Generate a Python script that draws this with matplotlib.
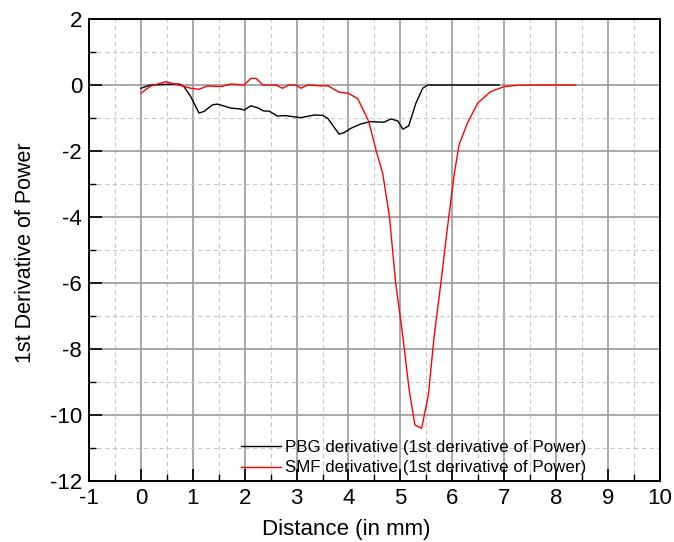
import matplotlib
matplotlib.use("Agg")
import matplotlib.pyplot as plt
from matplotlib.ticker import MultipleLocator

plt.rcParams['font.family'] = ['Liberation Sans', 'DejaVu Sans']
plt.rcParams['axes.unicode_minus'] = False

# PBG derivative (black)
pbg_x = [0.0, 0.19, 0.5, 0.74, 0.83, 0.96, 1.12, 1.22, 1.38, 1.48, 1.73, 1.93, 1.99,
         2.12, 2.25, 2.37, 2.47, 2.63, 2.79, 3.08, 3.34, 3.5, 3.6, 3.82, 3.92, 4.05,
         4.24, 4.43, 4.68, 4.82, 4.95, 5.05, 5.16, 5.3, 5.43, 5.53, 6.0, 6.5, 6.9]
pbg_y = [-0.1, 0.0, 0.02, 0.03, -0.05, -0.35, -0.85, -0.8, -0.6, -0.58, -0.7, -0.73, -0.76,
         -0.63, -0.69, -0.79, -0.79, -0.94, -0.93, -0.99, -0.91, -0.92, -1.01, -1.49, -1.44, -1.31,
         -1.18, -1.11, -1.13, -1.03, -1.09, -1.34, -1.24, -0.55, -0.1, 0.0, 0.0, 0.0, 0.0]

# SMF derivative (red)
smf_x = [0.0, 0.19, 0.48, 0.6, 0.8, 0.96, 1.12, 1.28, 1.54, 1.73, 1.99, 2.12, 2.22,
         2.35, 2.6, 2.73, 2.85, 2.99, 3.08, 3.22, 3.5, 3.6, 3.82, 4.0, 4.18, 4.39,
         4.53, 4.66, 4.79, 4.91, 5.04, 5.17, 5.28, 5.41, 5.54, 5.65, 5.78, 5.91,
         6.04, 6.13, 6.29, 6.49, 6.74, 7.0, 7.26, 7.6, 8.0, 8.38]
smf_y = [-0.25, -0.03, 0.1, 0.05, -0.03, -0.1, -0.13, -0.03, -0.05, 0.03, 0.0, 0.2, 0.2,
         0.0, 0.0, -0.1, 0.0, 0.0, -0.1, 0.0, -0.03, -0.02, -0.22, -0.25, -0.42, -1.1,
         -1.97, -2.68, -3.99, -6.01, -7.52, -9.24, -10.3, -10.4, -9.39, -7.63, -6.01, -4.29,
         -2.68, -1.82, -1.16, -0.55, -0.2, -0.05, -0.01, 0.0, 0.0, 0.0]

fig = plt.figure(figsize=(6.74, 5.42), dpi=100)
ax = fig.add_axes([0.132, 0.1125, 0.847, 0.8525])

ax.plot(pbg_x, pbg_y, color='black', lw=1.0, label='PBG derivative (1st derivative of Power)')
ax.plot(smf_x, smf_y, color='red', lw=1.0, label='SMF derivative (1st derivative of Power)')

ax.set_xlim(-1, 10)
ax.set_ylim(-12, 2)
ax.xaxis.set_major_locator(MultipleLocator(1))
ax.xaxis.set_minor_locator(MultipleLocator(0.5))
ax.yaxis.set_major_locator(MultipleLocator(2))
ax.yaxis.set_minor_locator(MultipleLocator(1))

ax.grid(which='major', color='#999999', lw=1.2, ls='-')
ax.grid(which='minor', color='#c8c8c8', lw=0.8, ls=(0, (4, 3)))
ax.set_axisbelow(True)

ax.tick_params(which='major', direction='in', length=9, width=1.2, labelsize=16, pad=5)
ax.tick_params(which='minor', direction='in', length=5, width=1.0)
for s in ax.spines.values():
    s.set_linewidth(1.4)

ax.set_xlabel('Distance (in mm)', fontsize=16, labelpad=7)
ax.set_ylabel('1st Derivative of Power', fontsize=15.5, labelpad=10)
ax.xaxis.label.set_x(0.45)
ax.yaxis.label.set_y(0.494)

ax.legend(loc='lower left', bbox_to_anchor=(0.266, 0.012), frameon=False, fontsize=12.2,
          handlelength=2.35, handletextpad=0.25, labelspacing=0.35,
          borderaxespad=0, borderpad=0)

fig.savefig('out.png', dpi=100)
